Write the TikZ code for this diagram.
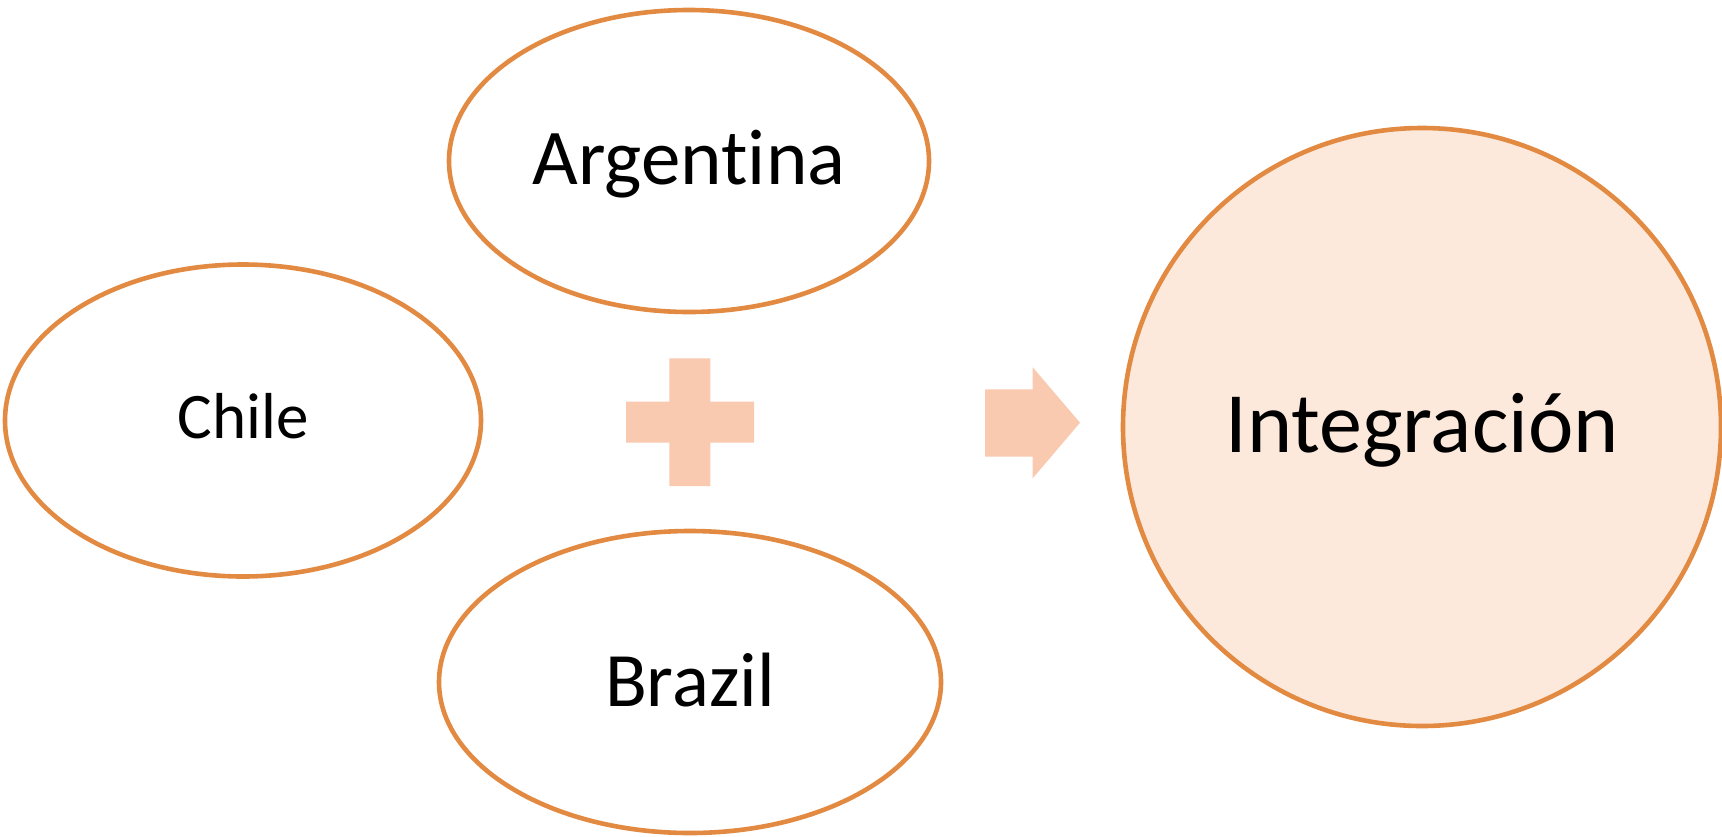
\documentclass[tikz,border=0pt]{standalone}
\usepackage{fontspec}
\setmainfont{Carlito}[Ligatures=NoCommon]
\usetikzlibrary{shapes.geometric}
\definecolor{edgeorange}{HTML}{E38A42}
\definecolor{circfill}{HTML}{FCE9DB}
\definecolor{signfill}{HTML}{F9C9B0}
\tikzset{
  country/.style={ellipse, draw=edgeorange, line width=4.6pt, fill=white, inner sep=0pt, text depth=0pt},
  result/.style={circle, draw=edgeorange, line width=4.6pt, fill=circfill, inner sep=0pt, text depth=0pt},
  sign/.style={fill=signfill, draw=none}
}
\begin{document}
\begin{tikzpicture}[x=1pt, y=-1pt]
\useasboundingbox (0,0) rectangle (1722,836);
% ellipses
\node[country, minimum width=480pt, minimum height=302pt, text height=46pt,
      font=\fontsize{79}{90}\selectfont] (arg) at (689,161) {Argentina};
\node[country, minimum width=476pt, minimum height=312pt, text height=35pt,
      font=\fontsize{65}{76}\selectfont] (chi) at (243,420.5) {Chile};
\node[country, minimum width=502pt, minimum height=302pt, text height=49pt,
      font=\fontsize{77}{88}\selectfont] (bra) at (690,682) {Brazil};
\node[result, minimum size=598pt, text height=51pt,
      font=\fontsize{86}{98}\selectfont] (int) at (1422,427) {Integración};
% plus sign
\path[sign] (669.3,358.3) -- (710.3,358.3) -- (710.3,401.7) -- (754,401.7) -- (754,442.7)
  -- (710.3,442.7) -- (710.3,486) -- (669.3,486) -- (669.3,442.7) -- (626,442.7)
  -- (626,401.7) -- (669.3,401.7) -- cycle;
% arrow
\path[sign] (985,389.3) -- (1032.7,389.3) -- (1032.7,367.3) -- (1080,422.7)
  -- (1032.7,478.3) -- (1032.7,456.7) -- (985,456.7) -- cycle;
\end{tikzpicture}
\end{document}
